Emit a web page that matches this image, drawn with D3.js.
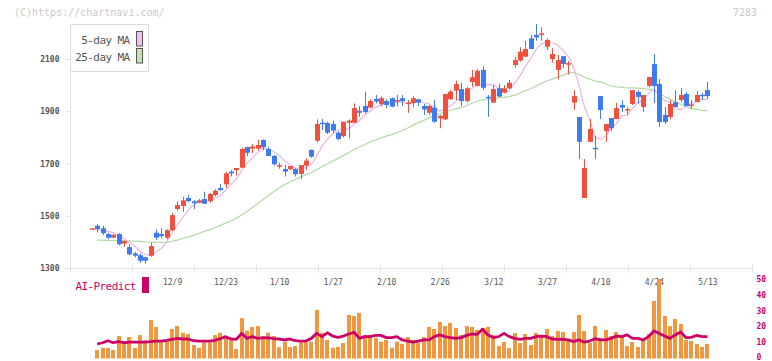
<!DOCTYPE html>
<html><head><meta charset="utf-8">
<script src="https://cdn.jsdelivr.net/npm/d3@7/dist/d3.min.js"></script>
<style>body{margin:0;background:#fff}svg{display:block}</style>
</head><body>
<svg id="c" width="772" height="361"></svg>
<script>
const opens = [1451,1462,1452,1430,1416,1430,1394,1380,1356,1349,1341,1347,1435,1430,1416,1445,1526,1537,1568,1555,
1550,1564,1556,1579,1606,1620,1669,1675,1684,1763,1757,1757,1790,1756,1729,1688,1679,1678,1679,1660,
1692,1752,1787,1856,1855,1851,1818,1805,1856,1856,1902,1920,1914,1947,1927,1939,1950,1937,1950,1931,
1931,1946,1920,1894,1914,1873,1869,1946,1979,1985,1939,2012,1997,2058,1955,1933,1988,1971,1988,2077,
2094,2109,2179,2192,2195,2147,2100,2058,2111,2080,1933,1878,1568,1783,1760,1958,1824,1874,1870,1924,
1904,1928,1974,1916,1997,2081,2004,1886,1878,1935,1943,1966,1922,1935,1963,1981];
const highs = [1453,1468,1461,1435,1430,1433,1405,1391,1362,1356,1343,1397,1448,1452,1448,1510,1556,1573,1579,1560,
1564,1592,1587,1602,1621,1668,1675,1683,1760,1764,1775,1791,1792,1765,1733,1703,1694,1690,1682,1694,
1720,1754,1869,1870,1860,1864,1824,1860,1869,1930,1920,1975,1946,1962,1957,1946,1953,1962,1962,1943,
1958,1946,1928,1924,1943,1886,1966,1981,2017,2009,1994,2058,2061,2072,1962,2000,2005,2000,2020,2107,
2145,2169,2192,2234,2221,2179,2141,2115,2111,2092,1981,1878,1717,1870,1805,1958,1851,1874,1932,1943,
1916,1981,1981,1962,2031,2119,2023,1916,1943,1981,1989,1974,1943,1977,1970,2012];
const lows = [1450,1437,1426,1410,1414,1387,1380,1349,1341,1320,1318,1343,1407,1414,1410,1441,1519,1515,1551,1526,
1548,1545,1549,1575,1596,1607,1650,1654,1683,1729,1740,1750,1750,1729,1692,1680,1650,1675,1650,1641,
1675,1722,1780,1828,1812,1816,1790,1800,1797,1854,1879,1892,1911,1930,1920,1911,1915,1918,1920,1894,
1915,1920,1886,1886,1856,1835,1867,1943,1943,1920,1933,1994,1994,1982,1879,1933,1954,1969,1985,2067,
2090,2107,2138,2170,2170,2134,2086,2022,2066,2041,1905,1717,1568,1783,1717,1870,1783,1824,1870,1897,
1886,1924,1928,1897,1993,1932,1840,1851,1870,1916,1935,1920,1909,1935,1943,1947];
const closes = [1452,1449,1433,1416,1427,1391,1403,1352,1347,1328,1328,1384,1416,1422,1445,1502,1541,1559,1556,1548,
1559,1546,1583,1596,1598,1662,1662,1683,1756,1741,1765,1771,1762,1729,1697,1694,1669,1690,1659,1694,
1711,1726,1851,1852,1818,1826,1794,1860,1864,1912,1894,1897,1939,1937,1950,1924,1918,1943,1939,1933,
1950,1933,1907,1920,1860,1882,1966,1975,2004,1939,1988,2030,2055,1990,1950,1985,1956,1988,2009,2096,
2128,2138,2138,2183,2198,2173,2119,2096,2081,2084,1958,1783,1683,1832,1756,1905,1851,1835,1912,1914,
1908,1981,1955,1962,2031,1997,1859,1859,1928,1916,1962,1920,1926,1962,1961,1958];
const volumes = [null,5.4,6.9,6.7,5.4,14.4,9.7,13.8,6.7,15.0,11.7,24.6,20.2,10.4,11.7,18.9,20.8,16.5,15.7,8.6,
6.9,10.4,10.4,15.0,16.5,13.9,11.7,6.1,25.9,17.8,20.2,20.8,13.9,16.5,14.4,7.3,10.8,7.3,8.0,10.4,
10.4,10.8,31.1,16.5,11.9,6.9,7.4,9.9,27.9,27.2,29.2,15.1,15.1,13.1,10.8,11.9,6.9,10.8,9.3,13.8,
11.9,9.9,13.8,20.2,18.9,23.4,20.8,22.8,19.6,15.1,20.8,20.2,18.3,19.6,20.2,15.1,8.0,10.6,6.7,16.3,
9.9,15.7,8.6,16.3,14.8,18.9,14.4,17.6,17.0,12.3,17.0,27.9,17.6,9.9,20.8,13.1,18.3,14.4,17.0,14.4,
8.0,10.6,7.4,11.9,15.7,36.9,51.0,27.2,20.8,25.3,22.1,11.9,11.2,9.3,7.4,9.3];
const aiPredict = [null,9.3,10.1,11.4,10.1,10.8,10.1,10.5,10.5,10.5,10.5,10.8,11.2,11.2,11.6,12.3,12.9,12.5,12.5,11.4,
11.2,11.2,11.2,11.6,12.7,14.0,12.5,12.3,16.1,12.9,14.0,12.9,13.4,13.2,12.7,12.5,11.9,12.5,11.4,11.2,
11.2,12.9,16.1,14.0,16.5,14.4,13.6,14.4,15.7,16.8,12.9,14.0,14.0,14.8,14.8,13.4,13.4,14.0,11.9,11.2,
10.5,11.2,11.9,11.9,14.0,15.1,14.0,13.4,12.9,13.4,14.8,15.7,15.5,18.7,15.1,13.4,14.0,16.1,14.0,12.9,
12.3,12.9,12.9,14.0,14.4,14.0,12.5,12.3,12.3,11.9,10.8,11.9,10.5,11.2,12.7,11.9,11.9,12.9,14.4,14.0,
15.1,12.9,12.9,11.9,14.0,17.6,16.1,14.4,12.9,15.1,17.0,13.4,13.6,14.8,14.0,14.0];
// moving averages before enough closes are on the chart
const ma5Lead = [null,1447,1444,1440];
const ma25Lead = [null,1407,1407,1406,1406,1405,1405,1404,1403,1402,1400,1399,1398,1398,1399,1402,1407,1413,1419,1425,1432,1440,1447,1455];
const priceTicks = [1300,1500,1700,1900,2100];
const volTicks = [0,10,20,30,40,50];
const dateLabelIdx = [15,25,35,45,55,65,75,85,95,105,115];
const dateLabels = ["12/9","12/23","1/10","1/27","2/10","2/26","3/12","3/27","4/10","4/24","5/13"];
const gridTickCount = 11;

const UP = "#f0503c", DOWN = "#3f7bf0", AXIS = "#e2e2e2", TXT = "#555", AI = "#cc0066";
const FONT = "'DejaVu Sans Mono', monospace";

function movingAvg(n, lead) {
  return closes.map((c, i) => {
    if (i < n - 1) return lead[i] != null ? lead[i] : null;
    return d3.mean(closes.slice(i - n + 1, i + 1));
  });
}
const ma5 = movingAvg(5, ma5Lead);
const ma25 = movingAvg(25, ma25Lead);

const svg = d3.select("#c");
const x = d3.scaleLinear().domain([0, closes.length - 1]).range([91.8, 707.4]);
const y = d3.scaleLinear().domain([1300, 2100]).range([268, 59]);
const yv = d3.scaleLinear().domain([0, 50]).range([358.5, 280.5]);
const gx = d3.scaleLinear().domain([0, gridTickCount]).range([70.5, 752.5]);
const px = i => Math.round(x(i));

// watermark
svg.append("text").attr("x", 14).attr("y", 15.5).attr("font-family", FONT).attr("font-size", 10)
  .attr("fill", "#c8c8c8").text("(C)https://chartnavi.com/");
svg.append("text").attr("x", 757).attr("y", 15.5).attr("text-anchor", "end").attr("font-family", FONT)
  .attr("font-size", 10).attr("fill", "#c8c8c8").text("7283");

// y axis
svg.append("line").attr("x1", 70.5).attr("x2", 70.5).attr("y1", 24).attr("y2", 268.5).attr("stroke", AXIS);
const ya = svg.append("g").attr("transform", "translate(70.5,0)")
  .call(d3.axisLeft(y).tickValues(priceTicks).tickFormat(d3.format("d")).tickSize(5).tickSizeOuter(0).tickPadding(6));
ya.select(".domain").remove();
ya.selectAll(".tick line").attr("stroke", AXIS);
ya.selectAll(".tick text").attr("font-family", FONT).attr("font-size", 8).attr("fill", TXT).attr("font-weight", "bold");

// x axis line + grid ticks
svg.append("line").attr("x1", 65).attr("x2", 752.5).attr("y1", 268.5).attr("y2", 268.5).attr("stroke", AXIS);
svg.append("g").selectAll("line").data(d3.range(0, gridTickCount + 1)).join("line")
  .attr("x1", d => gx(d)).attr("x2", d => gx(d)).attr("y1", 265).attr("y2", 273).attr("stroke", AXIS);
const xa = svg.append("g").attr("transform", "translate(0,279)")
  .call(d3.axisBottom(x).tickValues(dateLabelIdx).tickFormat((d, i) => dateLabels[i]).tickSize(0).tickPadding(0));
xa.select(".domain").remove();
xa.selectAll(".tick text").attr("font-family", FONT).attr("font-size", 8).attr("fill", TXT).attr("dy", "0.71em");

// moving averages
const maLine = d3.line().defined(d => d != null).x((d, i) => x(i)).y(d => y(d));
svg.append("path").datum(ma25).attr("d", maLine).attr("fill", "none").attr("stroke", "#b3d9a5").attr("stroke-width", 1.2);
svg.append("path").datum(ma5).attr("d", maLine).attr("fill", "none").attr("stroke", "#e9b5ea").attr("stroke-width", 1.2);

// candles
const candles = svg.append("g").selectAll("g").data(closes.map((c, i) => i)).join("g")
  .attr("fill", i => closes[i] >= opens[i] ? UP : DOWN)
  .attr("stroke", i => closes[i] >= opens[i] ? UP : DOWN);
candles.append("line").attr("x1", i => px(i) + 0.5).attr("x2", i => px(i) + 0.5)
  .attr("y1", i => y(highs[i])).attr("y2", i => y(lows[i])).attr("stroke-width", 1);
candles.append("rect").attr("stroke", "none")
  .attr("x", i => px(i) - 2).attr("width", 5)
  .attr("y", i => y(Math.max(opens[i], closes[i])))
  .attr("height", i => Math.max(1.5, Math.abs(y(opens[i]) - y(closes[i]))));

// legend
const lg = svg.append("g");
lg.append("rect").attr("x", 70.5).attr("y", 24.5).attr("width", 78).attr("height", 47).attr("fill", "#fff").attr("stroke", "#dcdcdc");
const legendItems = [["5-day MA", "#f2bff0", 43.5, 31.5], ["25-day MA", "#c2e1b5", 61, 48.5]];
legendItems.forEach(([t, c, ty, ry]) => {
  lg.append("text").attr("x", 129.5).attr("y", ty).attr("text-anchor", "end").attr("font-family", FONT)
    .attr("font-size", 11).attr("letter-spacing", -0.6).attr("fill", TXT).text(t);
  lg.append("rect").attr("x", 136.5).attr("y", ry).attr("width", 6).attr("height", 14.5)
    .attr("fill", c).attr("stroke", "#555");
});

// volume / AI panel
svg.append("g").selectAll("rect").data(volumes.map((v, i) => i).filter(i => volumes[i] != null)).join("rect")
  .attr("x", i => px(i) - 2).attr("width", 4)
  .attr("y", i => yv(volumes[i])).attr("height", i => yv(0) - yv(volumes[i])).attr("fill", "#f0973f");
const aiLine = d3.line().defined(d => d != null).x((d, i) => x(i)).y(d => yv(d));
svg.append("path").datum(aiPredict).attr("d", aiLine).attr("fill", "none").attr("stroke", AI)
  .attr("stroke-width", 2.8).attr("stroke-linejoin", "round");

svg.append("g").selectAll("text").data(volTicks).join("text")
  .attr("x", 756.5).attr("y", d => yv(d) - 1).attr("dy", "0.35em").attr("font-family", FONT)
  .attr("font-size", 8).attr("font-weight", "bold").attr("fill", AI).text(d => d);

svg.append("text").attr("x", 75.5).attr("y", 289.5).attr("font-family", FONT).attr("font-size", 11)
  .attr("letter-spacing", -0.6).attr("fill", AI).text("AI-Predict");
svg.append("rect").attr("x", 142).attr("y", 277).attr("width", 7).attr("height", 16).attr("fill", AI);
</script>
</body></html>
